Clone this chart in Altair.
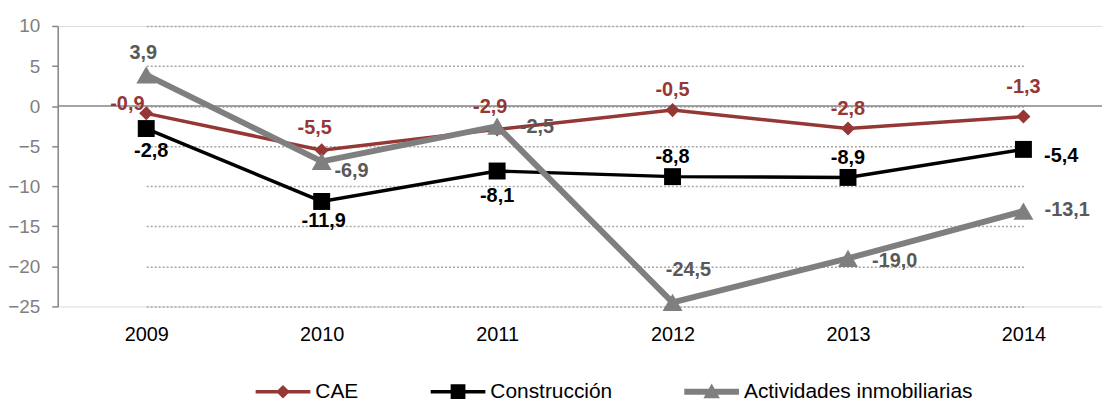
import altair as alt
import pandas as pd

# ---- data ----
years = ["2009", "2010", "2011", "2012", "2013", "2014"]
series_names = ["CAE", "Construcción", "Actividades inmobiliarias"]
cae = [-0.9, -5.5, -2.9, -0.5, -2.8, -1.3]
construccion = [-2.8, -11.9, -8.1, -8.8, -8.9, -5.4]
actividades = [3.9, -6.9, -2.5, -24.5, -19.0, -13.1]
y_ticks = [-25, -20, -15, -10, -5, 0, 5, 10]

# ---- styles ----
FONT = "Liberation Sans"
line_colors = ["#953735", "#000000", "#7f7f7f"]
label_colors = ["#953735", "#000000", "#595959"]
marker_shapes = ["diamond", "square", "triangle-up"]
marker_sizes = [200, 290, 400]
line_widths = [3.5, 3.5, 6]
legend_paths = [
    "M-1,-0.064H1V0.064H-1Z M-0.25,0L0,-0.25L0.25,0L0,0.25Z",
    "M-1,-0.064H1V0.064H-1Z M-0.27,-0.27H0.27V0.27H-0.27Z",
    "M-1,-0.11H1V0.11H-1Z M-0.3,0.24L0,-0.3L0.3,0.24Z",
]
# label offsets (dx, dy) per series / year
label_offsets = [
    [(-19, -9), (-7, -22), (-7, -22), (0, -20), (0, -20), (0, -30)],
    [(5, 23), (2, 20), (0, 25), (0, -20), (0, -20), (38, 7)],
    [(-3, -22), (30, 10), (40, 1), (16, -33), (47, 3), (44, -1)],
]

values = [cae, construccion, actividades]
rows = []
for s, vals in zip(series_names, values):
    for y, v in zip(years, vals):
        rows.append({"year": y, "serie": s, "value": v,
                     "label": f"{v:.1f}".replace(".", ",")})
df = pd.DataFrame(rows)

x_enc = alt.X("year:O",
              scale=alt.Scale(type="point", domain=years, range=[89, 971], padding=0),
              axis=alt.Axis(title=None, domain=False, ticks=False, grid=False,
                            labelAngle=0, labelFontSize=20, labelColor="#000000",
                            labelFont=FONT, labelPadding=18))
y_enc = alt.Y("value:Q",
              scale=alt.Scale(domain=[-25, 10], nice=False, zero=False),
              axis=alt.Axis(title=None, values=y_ticks, grid=True,
                            gridDash=[2, 2], gridColor="#a6a6a6", gridWidth=1.5,
                            domainColor="#868686", domainWidth=1.5,
                            tickColor="#868686", tickWidth=1.5, tickSize=6,
                            labelFontSize=19, labelColor="#7f7f7f",
                            labelFont=FONT, labelPadding=12))

base = alt.Chart(df)

layers = []
zero = alt.Chart(pd.DataFrame({"v": [0]})).mark_rule(
    color="#868686", strokeWidth=1.5).encode(
    y=alt.Y("v:Q", scale=alt.Scale(domain=[-25, 10], nice=False)))
layers.append(zero)

for i, s in enumerate(series_names):
    sub = base.transform_filter(alt.datum.serie == s)
    layers.append(sub.mark_line(color=line_colors[i], strokeWidth=line_widths[i])
                  .encode(x=x_enc, y=y_enc))
for i, s in enumerate(series_names):
    sub = base.transform_filter(alt.datum.serie == s)
    layers.append(sub.mark_point(filled=True, opacity=1, color=line_colors[i],
                                 shape=marker_shapes[i], size=marker_sizes[i])
                  .encode(x=x_enc, y=y_enc))

for i, s in enumerate(series_names):
    for j, yv in enumerate(years):
        dx, dy = label_offsets[i][j]
        layers.append(
            base.transform_filter((alt.datum.serie == s) & (alt.datum.year == yv))
            .mark_text(font=FONT, fontSize=20, fontWeight="bold",
                       color=label_colors[i], align="center", baseline="middle",
                       dx=dx, dy=dy)
            .encode(x=x_enc, y=y_enc, text="label:N"))

legend_def = alt.Legend(orient="none", legendX=199, legendY=340,
                        direction="horizontal", columns=3, title=None,
                        symbolSize=3025, symbolStrokeWidth=0,
                        symbolOpacity=1, labelFontSize=21, labelLimit=500,
                        labelFont=FONT, labelColor="#000000",
                        labelOffset=5, columnPadding=72, padding=0)
legend_layer = base.transform_filter("datum.value > 1000").mark_point(
    filled=True, opacity=1).encode(
    x=x_enc, y=y_enc,
    color=alt.Color("serie:N", scale=alt.Scale(domain=series_names, range=line_colors),
                    legend=legend_def),
    shape=alt.Shape("serie:N", scale=alt.Scale(domain=series_names, range=legend_paths),
                    legend=legend_def),
)
layers.append(legend_layer)

chart = alt.layer(*layers).properties(
    width=1050, height=282,
    autosize=alt.AutoSizeParams(type="none"),
    padding={"left": 50, "top": 17, "right": 0, "bottom": 96},
).configure_view(stroke=None).configure(background="white")

chart.save("out.html", embed_options={"renderer": "svg", "actions": False})
